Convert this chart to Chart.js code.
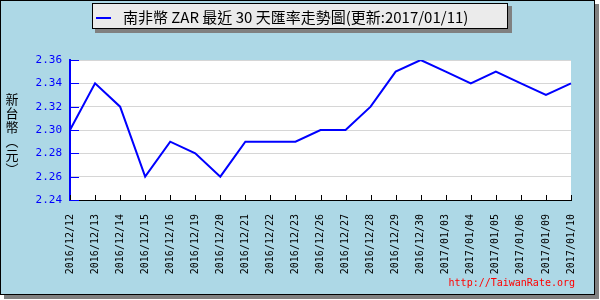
<!DOCTYPE html>
<html>
<head>
<meta charset="utf-8">
<script src="https://cdn.jsdelivr.net/npm/chart.js@4"></script>
<style>
  body { margin: 0; background: #fff; }
  canvas { display: block; }
</style>
</head>
<body>
<canvas id="rateChart" width="600" height="300"></canvas>
<script>
// Chart data
const dates = ['2016/12/12', '2016/12/13', '2016/12/14', '2016/12/15', '2016/12/16', '2016/12/19',
    '2016/12/20', '2016/12/21', '2016/12/22', '2016/12/23', '2016/12/26', '2016/12/27',
    '2016/12/28', '2016/12/29', '2016/12/30', '2017/01/03', '2017/01/04', '2017/01/05',
    '2017/01/06', '2017/01/09', '2017/01/10'];
const rates = [2.30, 2.34, 2.32, 2.26, 2.29, 2.28, 2.26, 2.29, 2.29, 2.29, 2.30, 2.30,
    2.32, 2.35, 2.36, 2.35, 2.34, 2.35, 2.34, 2.33, 2.34];
const yTickLabels = ['2.24', '2.26', '2.28', '2.30', '2.32', '2.34', '2.36'];
const seriesName = '南非幣 ZAR 最近 30 天匯率走勢圖(更新:2017/01/11)';
const yTitle = '新台幣(元)';
const siteText = 'http://TaiwanRate.org';

const mono = '"DejaVu Sans Mono", monospace';
const cjk = '"Noto Sans CJK TC", sans-serif';

// Background, frame and legend box
const framePlugin = {
    id: 'frame',
    beforeDraw(chart) {
        const c = chart.ctx;
        const a = chart.chartArea;
        c.save();
        c.fillStyle = '#fff';
        c.fillRect(0, 0, 600, 300);
        c.fillStyle = '#808080';
        c.fillRect(4, 4, 595, 295);
        c.fillStyle = '#add8e6';
        c.fillRect(0, 0, 595, 295);
        c.strokeStyle = '#000';
        c.lineWidth = 1;
        c.strokeRect(0.5, 0.5, 594, 294);
        // plot background
        c.fillStyle = '#fff';
        c.fillRect(a.left, a.top, a.right - a.left, a.bottom - a.top);

        // legend
        c.fillStyle = '#808080';
        c.fillRect(95, 6, 417, 27);
        c.fillStyle = '#ebebeb';
        c.fillRect(92, 3, 416, 26);
        c.strokeStyle = '#000';
        c.strokeRect(92.5, 3.5, 415, 25);
        const ds = chart.data.datasets[0];
        c.strokeStyle = ds.borderColor;
        c.lineWidth = 2;
        c.beginPath();
        c.moveTo(96, 18);
        c.lineTo(111, 18);
        c.stroke();
        c.fillStyle = '#000';
        c.font = '15px ' + cjk;
        c.textBaseline = 'middle';
        c.fillText(ds.label, 123, 17);
        c.restore();
    },
    afterDraw(chart) {
        const c = chart.ctx;
        const a = chart.chartArea;
        const x = chart.scales.x;
        const y = chart.scales.y;
        c.save();
        // x tick marks pointing into the plot
        c.strokeStyle = '#000';
        c.lineWidth = 1;
        x.ticks.forEach((t, i) => {
            const px = Math.round(x.getPixelForTick(i)) + 0.5;
            c.beginPath();
            c.moveTo(px, a.bottom);
            c.lineTo(px, a.bottom - 5);
            c.stroke();
        });
        // y tick marks, long on labelled values
        c.strokeStyle = '#0000ff';
        y.ticks.forEach(t => {
            const py = Math.round(y.getPixelForValue(t.value)) + 0.5;
            const major = Math.round(t.value * 100) % 2 === 0;
            c.beginPath();
            c.moveTo(a.left, py);
            c.lineTo(a.left + (major ? 9 : 4), py);
            c.stroke();
        });
        // vertical y title
        c.fillStyle = '#000';
        c.font = '13px ' + cjk;
        c.textAlign = 'center';
        c.textBaseline = 'middle';
        const chars = Array.from(yTitle.replace('(', '︵').replace(')', '︶'));
        chars.forEach((ch, i) => {
            c.fillText(ch, 12, 99 + i * 14);
        });
        // site text
        c.fillStyle = '#ff0000';
        c.font = '10px ' + mono;
        c.textAlign = 'right';
        c.fillText(siteText, 575, 283);
        c.restore();
    }
};

new Chart(document.getElementById('rateChart'), {
    type: 'line',
    data: {
        labels: dates,
        datasets: [{
            label: seriesName,
            data: rates,
            borderColor: '#0000ff',
            borderWidth: 2,
            pointRadius: 0,
            tension: 0,
            fill: false
        }]
    },
    options: {
        responsive: false,
        animation: false,
        layout: { padding: { top: 60, right: 29, left: 0, bottom: 0 } },
        plugins: {
            legend: { display: false },
            tooltip: { enabled: false }
        },
        scales: {
            x: {
                offset: false,
                afterFit: scale => { scale.height = 100; },
                grid: { display: false },
                border: { color: '#000', width: 1 },
                ticks: {
                    color: '#000',
                    font: { family: mono, size: 10 },
                    minRotation: 90,
                    maxRotation: 90,
                    autoSkip: false,
                    padding: 6
                }
            },
            y: {
                min: 2.24,
                max: 2.36,
                afterFit: scale => { scale.width = 70; },
                grid: {
                    drawTicks: false,
                    color: ctx => Math.round(ctx.tick.value * 100) % 2 === 0 ? '#d6d6d6' : '#e6e6e6'
                },
                border: { color: '#0000ff', width: 2 },
                ticks: {
                    stepSize: 0.01,
                    color: '#0000ff',
                    font: { family: mono, size: 11 },
                    padding: 8,
                    callback: value => {
                        const s = value.toFixed(2);
                        return yTickLabels.includes(s) ? s : '';
                    }
                }
            }
        }
    },
    plugins: [framePlugin]
});
</script>
</body>
</html>
